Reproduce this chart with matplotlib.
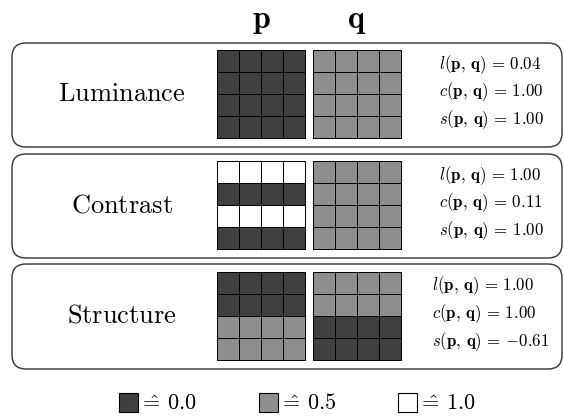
import numpy as np
import matplotlib
matplotlib.use("Agg")
import matplotlib.pyplot as plt
from matplotlib.colors import ListedColormap, BoundaryNorm
from matplotlib.patches import FancyBboxPatch, Rectangle

plt.rcParams['mathtext.fontset'] = 'cm'

# data
rows = ["Luminance", "Contrast", "Structure"]
p_imgs = [
    [[0, 0, 0, 0], [0, 0, 0, 0], [0, 0, 0, 0], [0, 0, 0, 0]],
    [[1, 1, 1, 1], [0, 0, 0, 0], [1, 1, 1, 1], [0, 0, 0, 0]],
    [[0, 0, 0, 0], [0, 0, 0, 0], [0.5, 0.5, 0.5, 0.5], [0.5, 0.5, 0.5, 0.5]],
]
q_imgs = [
    [[0.5] * 4] * 4,
    [[0.5] * 4] * 4,
    [[0.5, 0.5, 0.5, 0.5], [0.5, 0.5, 0.5, 0.5], [0, 0, 0, 0], [0, 0, 0, 0]],
]
l_vals = [0.04, 1.00, 1.00]
c_vals = [1.00, 0.11, 1.00]
s_vals = [1.00, 1.00, -0.61]
legend_vals = [0.0, 0.5, 1.0]

colors = ['#404040', '#8e8e8e', '#ffffff']
cmap = ListedColormap(colors)
norm = BoundaryNorm([-0.25, 0.25, 0.75, 1.25], cmap.N)

W, H = 564, 417
fig = plt.figure(figsize=(W / 100, H / 100), dpi=100)
ax = fig.add_axes([0, 0, 1, 1])
ax.set_xlim(0, W)
ax.set_ylim(H, 0)
ax.axis('off')

# layout (pixels)
box_top = [43, 154, 264]
box_h = [104, 104, 105]
box_x0, box_x1 = 12, 562
cell = 22
grid_x = [217, 313]
label_x = 122
text_x = 491

ax.text(grid_x[0] + 2 * cell, 20, r'$\mathbf{p}$', ha='center', va='center', fontsize=23)
ax.text(grid_x[1] + 2 * cell, 20, r'$\mathbf{q}$', ha='center', va='center', fontsize=23)

for i in range(3):
    top = box_top[i]
    h = box_h[i]
    cy = top + h / 2
    box = FancyBboxPatch((box_x0, top), box_x1 - box_x0, h,
                         boxstyle="round,pad=0,rounding_size=14",
                         fc='white', ec='#333333', lw=1.0)
    ax.add_patch(box)
    ax.text(label_x, cy - 1, r'$\mathrm{%s}$' % rows[i], ha='center', va='center', fontsize=19)

    gy = cy - 2 * cell - 1
    for gx, img in zip(grid_x, [p_imgs[i], q_imgs[i]]):
        xs = gx + cell * np.arange(5)
        ys = gy + cell * np.arange(5)
        ax.pcolormesh(xs, ys, np.array(img), cmap=cmap, norm=norm,
                      edgecolors='black', linewidth=0.7)

    lines = [r'$l(\mathbf{p},\,\mathbf{q})\,=\,{%.2f}$' % l_vals[i],
             r'$c(\mathbf{p},\,\mathbf{q})\,=\,{%.2f}$' % c_vals[i],
             r'$s(\mathbf{p},\,\mathbf{q})\,=\,{%.2f}$' % s_vals[i]]
    ax.text(text_x, cy - 3, "\n".join(lines), ha='center', va='center',
            multialignment='left', fontsize=12.2, linespacing=1.32)

# legend
leg_x = [119, 259, 398]
for x, c, v in zip(leg_x, colors, legend_vals):
    ax.add_patch(Rectangle((x, 393), 19, 19, fc=c, ec='black', lw=0.8))
    ax.text(x + 20, 403, r'$\hat{=}\,%.1f$' % v, ha='left', va='center', fontsize=16)

fig.savefig('out.png', dpi=100)
